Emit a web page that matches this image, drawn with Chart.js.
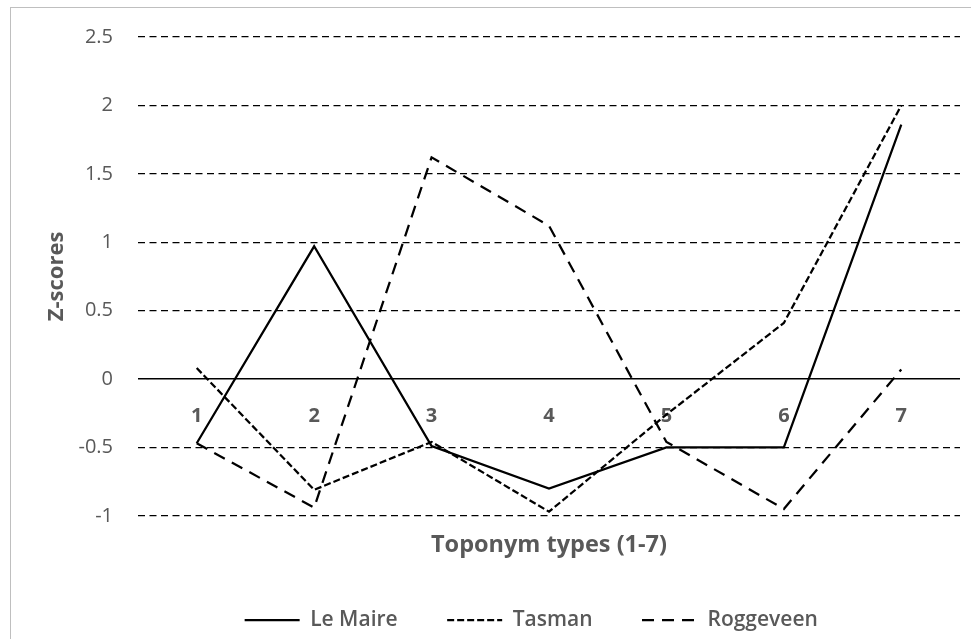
<!DOCTYPE html>
<html lang="en">
<head>
    <meta charset="UTF-8">
    <title>Z-scores of toponym types</title>
    <script src="https://cdn.jsdelivr.net/npm/chart.js"></script>
    <style>
        body {
            margin: 0;
            padding: 0;
            background: #ffffff;
            overflow: hidden;
        }
        #frame {
            position: absolute;
            left: 10px;
            top: 7px;
            width: 1000px;
            height: 700px;
            border: 1px solid #bfbfbf;
        }
        #wrap {
            position: absolute;
            left: 0;
            top: 0;
            width: 971px;
            height: 639px;
        }
    </style>
</head>
<body>
    <div id="frame"></div>
    <div id="wrap">
        <canvas id="zChart"></canvas>
    </div>

    <script>
        // toponym types 1-7
        const types = ['1', '2', '3', '4', '5', '6', '7'];

        // z-scores
        const leMaire   = [-0.47, 0.97, -0.49, -0.80, -0.50, -0.50, 1.86];
        const tasman    = [0.08, -0.81, -0.46, -0.97, -0.26, 0.41, 2.00];
        const roggeveen = [-0.47, -0.94, 1.62, 1.12, -0.46, -0.95, 0.07];

        const yTicks = { min: -1, max: 2.5, step: 0.5 };

        const gray = '#595959';
        const font = '"Open Sans", "DejaVu Sans", sans-serif';

        // the legend is centred on the canvas minus the left padding, so the y axis
        // is kept narrow while fitting and widened again afterwards (labels get clipped otherwise)
        const widenYAxis = {
            id: 'widenYAxis',
            afterLayout(chart) {
                chart.scales.y.left = 40;
            }
        };

        const ctx = document.getElementById('zChart').getContext('2d');
        new Chart(ctx, {
            type: 'line',
            data: {
                labels: types,
                datasets: [
                    { label: 'Le Maire', data: leMaire, borderColor: '#000', backgroundColor: '#000',
                      borderWidth: 2.25, borderDash: [] },
                    { label: 'Tasman', data: tasman, borderColor: '#000', backgroundColor: '#000',
                      borderWidth: 2.25, borderDash: [7, 3] },
                    { label: 'Roggeveen', data: roggeveen, borderColor: '#000', backgroundColor: '#000',
                      borderWidth: 2.25, borderDash: [12, 8] }
                ]
            },
            options: {
                responsive: true,
                maintainAspectRatio: false,
                animation: false,
                devicePixelRatio: 1,
                layout: { padding: { left: 102.5, right: 11, top: 34, bottom: -1.5 } },
                elements: {
                    point: { radius: 0, hoverRadius: 0 },
                    line: { tension: 0, fill: false }
                },
                scales: {
                    x: {
                        type: 'category',
                        offset: true,
                        grid: { display: false },
                        border: { display: false },
                        ticks: { display: false },
                        title: {
                            display: true,
                            text: 'Toponym types (1-7)',
                            color: gray,
                            font: { family: font, size: 23.5, weight: 'bold' },
                            padding: { top: 7, bottom: 1 }
                        }
                    },
                    x2: {
                        type: 'category',
                        axis: 'x',
                        position: { y: 0 },
                        offset: true,
                        grid: { display: false, drawTicks: false },
                        border: { display: false },
                        ticks: {
                            color: gray,
                            padding: 25,
                            font: { family: font, size: 20, weight: 'bold' }
                        }
                    },
                    y: {
                        min: yTicks.min,
                        max: yTicks.max,
                        afterFit: (scale) => { scale.width = 35.5; },
                        ticks: {
                            stepSize: yTicks.step,
                            color: gray,
                            padding: 25,
                            font: { family: font, size: 20 },
                            callback: (v) => String(v)
                        },
                        grid: {
                            color: '#000',
                            drawTicks: false,
                            lineWidth: (c) => (c.tick && c.tick.value === 0 ? 1.6 : 1.3)
                        },
                        border: {
                            display: false,
                            dash: (c) => (c.tick && c.tick.value === 0 ? [] : [7, 4.5])
                        },
                        title: {
                            display: true,
                            text: 'Z-scores',
                            color: gray,
                            font: { family: font, size: 22, weight: 'bold' },
                            padding: { top: 4, bottom: 0 }
                        }
                    }
                },
                plugins: {
                    tooltip: { enabled: false },
                    legend: {
                        position: 'bottom',
                        labels: {
                            usePointStyle: true,
                            pointStyle: 'line',
                            pointStyleWidth: 55,
                            padding: 49.5,
                            color: gray,
                            font: { family: font, size: 21, weight: '600' },
                            generateLabels(chart) {
                                const items = Chart.defaults.plugins.legend.labels.generateLabels(chart);
                                items.forEach((item) => {
                                    const ds = chart.data.datasets[item.datasetIndex];
                                    item.lineDash = ds.borderDash;
                                    item.lineWidth = ds.borderWidth;
                                    item.strokeStyle = ds.borderColor;
                                    item.fontColor = gray;
                                });
                                return items;
                            }
                        }
                    }
                }
            },
            plugins: [widenYAxis]
        });
    </script>
</body>
</html>
